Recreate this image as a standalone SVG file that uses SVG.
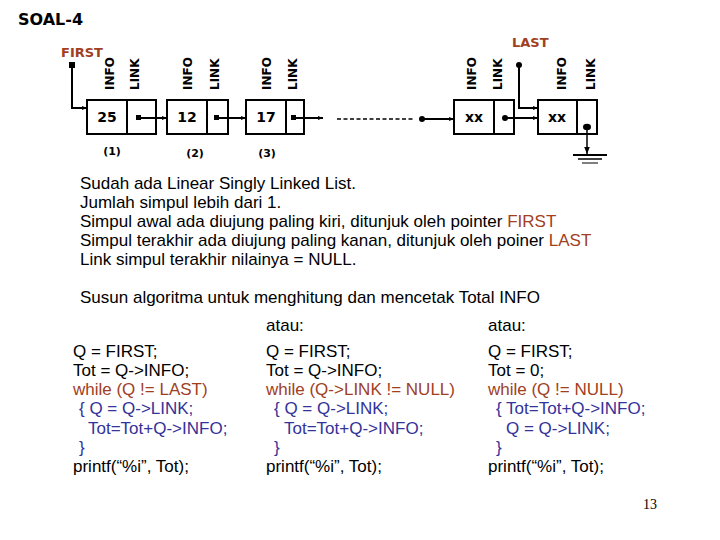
<svg xmlns="http://www.w3.org/2000/svg" width="720" height="540" viewBox="0 0 720 540">
<defs>
<marker id="ah" viewBox="0 0 10 10" refX="10" refY="5" markerWidth="5" markerHeight="5" orient="auto" markerUnits="userSpaceOnUse">
<path d="M0,1 L10,5 L0,9 z" fill="#000"/>
</marker>
<marker id="ahs" viewBox="0 0 10 10" refX="10" refY="5" markerWidth="7" markerHeight="7" orient="auto" markerUnits="userSpaceOnUse">
<path d="M0,1 L10,5 L0,9 z" fill="#000"/>
</marker>
</defs>
<style>
.box{fill:#fff;stroke:#000;stroke-width:2}
.ln{fill:none;stroke:#000;stroke-width:2}
.lab{font-family:"DejaVu Sans",sans-serif;font-weight:bold;font-size:12px;fill:#000}
.val{font-family:"DejaVu Sans",sans-serif;font-weight:bold;font-size:14px;fill:#000}
.xx{font-family:"DejaVu Sans",sans-serif;font-weight:bold;font-size:14px;fill:#000}
.num{font-family:"DejaVu Sans",sans-serif;font-weight:bold;font-size:11px;fill:#000}
.ptr{font-family:"DejaVu Sans",sans-serif;font-weight:bold;font-size:13px;fill:#a0401f}
.t{font-family:"Liberation Sans",Arial,sans-serif;font-size:17px;fill:#000}
.br{fill:#a0401f}
.bl{fill:#333399}
</style>
<rect width="720" height="540" fill="#fff"/>
<text x="18" y="25" style="font-family:'DejaVu Sans',sans-serif;font-weight:bold;font-size:16px">SOAL-4</text>

<g id="first">
<text class="ptr" x="61" y="57">FIRST</text>
<rect x="69" y="62" width="6" height="6" fill="#000"/>
</g>
<g id="last">
<text class="ptr" x="512" y="47">LAST</text>
<circle cx="519" cy="65" r="3" fill="#000"/>
</g>

<g id="node1">
<rect class="box" x="87" y="100" width="69" height="34"/>
<line class="ln" x1="127" y1="100" x2="127" y2="134"/>
<text class="val" x="107" y="122" text-anchor="middle">25</text>
<rect x="136" y="115" width="5" height="5" fill="#000"/>
<text class="lab" transform="translate(114,90) rotate(-90)">INFO</text>
<text class="lab" transform="translate(139,90) rotate(-90)">LINK</text>
<text class="num" x="112" y="155" text-anchor="middle">(1)</text>
</g>
<g id="node2">
<rect class="box" x="167" y="100" width="61" height="34"/>
<line class="ln" x1="207" y1="100" x2="207" y2="134"/>
<text class="val" x="187" y="122" text-anchor="middle">12</text>
<rect x="214" y="115" width="5" height="5" fill="#000"/>
<text class="lab" transform="translate(192,90) rotate(-90)">INFO</text>
<text class="lab" transform="translate(219,90) rotate(-90)">LINK</text>
<text class="num" x="195" y="157" text-anchor="middle">(2)</text>
</g>
<g id="node3">
<rect class="box" x="246" y="100" width="58" height="34"/>
<line class="ln" x1="286" y1="100" x2="286" y2="134"/>
<text class="val" x="266" y="122" text-anchor="middle">17</text>
<rect x="291" y="115" width="5" height="5" fill="#000"/>
<text class="lab" transform="translate(271,90) rotate(-90)">INFO</text>
<text class="lab" transform="translate(297,90) rotate(-90)">LINK</text>
<text class="num" x="267" y="157" text-anchor="middle">(3)</text>
</g>
<g id="node4">
<rect class="box" x="454" y="100" width="60" height="34"/>
<line class="ln" x1="494" y1="100" x2="494" y2="134"/>
<text class="xx" x="474" y="122" text-anchor="middle">xx</text>
<circle cx="505" cy="118" r="3" fill="#000"/>
<text class="lab" transform="translate(476,90) rotate(-90)">INFO</text>
<text class="lab" transform="translate(502,90) rotate(-90)">LINK</text>
</g>
<g id="node5">
<rect class="box" x="538" y="100" width="59" height="34"/>
<line class="ln" x1="577" y1="100" x2="577" y2="134"/>
<text class="xx" x="557" y="122" text-anchor="middle">xx</text>
<ellipse cx="587" cy="127" rx="4" ry="3.2" fill="#000"/>
<text class="lab" transform="translate(566,90) rotate(-90)">INFO</text>
<text class="lab" transform="translate(595,90) rotate(-90)">LINK</text>
</g>
<g id="null">
<line class="ln" x1="573" y1="155" x2="607" y2="155"/>
<line x1="578" y1="159" x2="602" y2="159" stroke="#000" stroke-width="1.5"/>
<line x1="582" y1="163" x2="598" y2="163" stroke="#000" stroke-width="1"/>
</g>

<g id="connectors">
<path class="ln" d="M72,65 V108 H87" marker-end="url(#ah)"/>
<path class="ln" d="M519,65 V108 H538" marker-end="url(#ah)"/>
<line class="ln" x1="138" y1="118" x2="167" y2="118" marker-end="url(#ah)"/>
<line class="ln" x1="216" y1="118" x2="246" y2="118" marker-end="url(#ah)"/>
<line class="ln" x1="293" y1="118" x2="323" y2="118" marker-end="url(#ah)"/>
<line x1="337" y1="119" x2="415" y2="119" stroke="#000" stroke-width="1.5" stroke-dasharray="4,2.5"/>
<circle cx="422" cy="119" r="3" fill="#000"/>
<line class="ln" x1="422" y1="119" x2="454" y2="119" marker-end="url(#ah)"/>
<line class="ln" x1="505" y1="118" x2="538" y2="118" marker-end="url(#ah)"/>
<line x1="587" y1="127" x2="587" y2="154" stroke="#000" stroke-width="1.5" marker-end="url(#ahs)"/>
</g>

<g id="desc">
<text class="t" x="80" y="189">Sudah ada Linear Singly Linked List.</text>
<text class="t" x="80" y="208">Jumlah simpul lebih dari 1.</text>
<text class="t" x="80" y="227">Simpul awal ada diujung paling kiri, ditunjuk oleh pointer <tspan class="br">FIRST</tspan></text>
<text class="t" x="80" y="246">Simpul terakhir ada diujung paling kanan, ditunjuk oleh poiner <tspan class="br">LAST</tspan></text>
<text class="t" x="80" y="265">Link simpul terakhir nilainya = NULL.</text>
<text class="t" x="80" y="303">Susun algoritma untuk menghitung dan mencetak Total INFO</text>
</g>

<g id="code1">
<text class="t" x="73" y="357">Q = FIRST;</text>
<text class="t" x="73" y="376">Tot = Q-&gt;INFO;</text>
<text class="t br" x="73" y="395">while (Q != LAST)</text>
<text class="t bl" x="79" y="414">{ Q = Q-&gt;LINK;</text>
<text class="t bl" x="88" y="434">Tot=Tot+Q-&gt;INFO;</text>
<text class="t bl" x="79" y="453">}</text>
<text class="t" x="73" y="472">printf(“%i”, Tot);</text>
</g>
<g id="code2">
<text class="t" x="266" y="331">atau:</text>
<text class="t" x="266" y="357">Q = FIRST;</text>
<text class="t" x="266" y="376">Tot = Q-&gt;INFO;</text>
<text class="t br" x="266" y="395">while (Q-&gt;LINK != NULL)</text>
<text class="t bl" x="274" y="414">{ Q = Q-&gt;LINK;</text>
<text class="t bl" x="284" y="434">Tot=Tot+Q-&gt;INFO;</text>
<text class="t bl" x="274" y="453">}</text>
<text class="t" x="266" y="472">printf(“%i”, Tot);</text>
</g>
<g id="code3">
<text class="t" x="488" y="331">atau:</text>
<text class="t" x="488" y="357">Q = FIRST;</text>
<text class="t" x="488" y="376">Tot = 0;</text>
<text class="t br" x="488" y="395">while (Q != NULL)</text>
<text class="t bl" x="496" y="414">{ Tot=Tot+Q-&gt;INFO;</text>
<text class="t bl" x="506" y="434">Q = Q-&gt;LINK;</text>
<text class="t bl" x="496" y="453">}</text>
<text class="t" x="488" y="472">printf(“%i”, Tot);</text>
</g>
<text x="643" y="509" style="font-family:'Liberation Serif',serif;font-size:14px">13</text>
</svg>
